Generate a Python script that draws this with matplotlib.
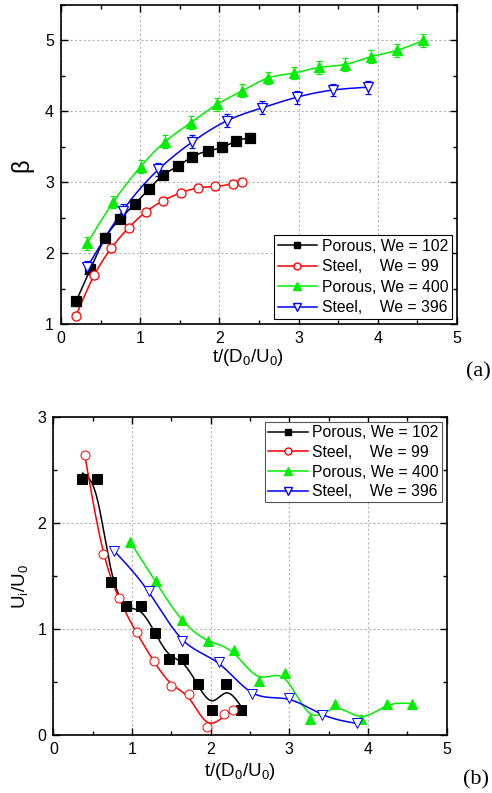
import numpy as np
import matplotlib
matplotlib.use('Agg')
import matplotlib.pyplot as plt
from matplotlib.lines import Line2D
from matplotlib.ticker import MultipleLocator

plt.rcParams['font.family'] = ['Liberation Sans', 'DejaVu Sans']
plt.rcParams['mathtext.fontset'] = 'custom'
plt.rcParams['mathtext.rm'] = 'Liberation Sans'
plt.rcParams['mathtext.it'] = 'Liberation Sans:italic'
plt.rcParams['mathtext.default'] = 'regular'

# ---- (a) spreading factor beta ----
t_porous_102 = [0.19, 0.37, 0.56, 0.745, 0.93, 1.115, 1.29, 1.48, 1.66, 1.85, 2.03, 2.21, 2.39]
b_porous_102 = [1.32, 1.77, 2.22, 2.48, 2.69, 2.91, 3.10, 3.23, 3.36, 3.44, 3.49, 3.58, 3.63]
e_porous_102 = [0.06] * len(t_porous_102)

t_steel_99 = [0.19, 0.42, 0.635, 0.855, 1.07, 1.29, 1.51, 1.73, 1.95, 2.17, 2.28]
b_steel_99 = [1.12, 1.69, 2.07, 2.36, 2.58, 2.74, 2.85, 2.92, 2.94, 2.98, 3.01]
e_steel_99 = [0.05] * len(t_steel_99)

t_porous_400 = [0.33, 0.66, 1.005, 1.31, 1.64, 1.97, 2.29, 2.61, 2.94, 3.26, 3.58, 3.91, 4.24, 4.57]
b_porous_400 = [2.14, 2.72, 3.22, 3.57, 3.84, 4.10, 4.29, 4.47, 4.54, 4.62, 4.66, 4.77, 4.86, 5.00]
e_porous_400 = [0.09] * len(t_porous_400)

t_steel_396 = [0.33, 0.78, 1.23, 1.66, 2.10, 2.54, 2.98, 3.43, 3.87]
b_steel_396 = [1.80, 2.60, 3.18, 3.57, 3.87, 4.05, 4.20, 4.30, 4.34]
e_steel_396 = [0.09] * len(t_steel_396)

# ---- (b) velocity Ui/U0 ----
tb_porous_102 = [0.37, 0.55, 0.73, 0.92, 1.11, 1.29, 1.47, 1.65, 1.84, 2.02, 2.20, 2.39]
u_porous_102 = [2.415, 2.415, 1.446, 1.217, 1.217, 0.965, 0.72, 0.72, 0.48, 0.24, 0.48, 0.24]

tb_steel_99 = [0.403, 0.63, 0.84, 1.06, 1.28, 1.50, 1.73, 1.95, 2.17, 2.28]
u_steel_99 = [2.648, 1.714, 1.295, 0.969, 0.70, 0.462, 0.387, 0.078, 0.195, 0.236]

tb_porous_400 = [0.98, 1.30, 1.63, 1.96, 2.29, 2.61, 2.94, 3.26, 3.58, 3.91, 4.24, 4.56]
u_porous_400 = [1.82, 1.45, 1.09, 0.887, 0.80, 0.512, 0.588, 0.148, 0.292, 0.148, 0.292, 0.292]

tb_steel_396 = [0.77, 1.21, 1.64, 2.10, 2.53, 2.99, 3.42, 3.86]
u_steel_396 = [1.74, 1.36, 0.89, 0.69, 0.387, 0.346, 0.189, 0.11]

labels = ['Porous, We = 102', 'Steel,    We = 99', 'Porous, We = 400', 'Steel,    We = 396']
colors = ['black', '#ff0000', '#00ee00', '#0000ff']
markers = ['s', 'o', '^', 'v']
faces = ['black', 'white', '#00ee00', 'white']
msizes = [6.5, 6.5, 7.5, 7.5]


# penalised least squares curve (like the smoothed lines in the plot)
def smooth_line(x, y, s, n=400):
    x = np.asarray(x, float)
    y = np.asarray(y, float)
    xs = np.linspace(x.min(), x.max(), n)
    h = xs[1] - xs[0]
    W = np.zeros((len(x), n))
    idx = np.clip(np.searchsorted(xs, x) - 1, 0, n - 2)
    f = (x - xs[idx]) / h
    W[np.arange(len(x)), idx] = 1 - f
    W[np.arange(len(x)), idx + 1] = f
    D = np.diff(np.eye(n), 2, axis=0)
    A = W.T @ W + s / h ** 3 * (D.T @ D)
    return xs, np.linalg.solve(A, W.T @ y)


def style_axes(ax):
    ax.set_xlim(0, 5)
    ax.xaxis.set_major_locator(MultipleLocator(1))
    ax.xaxis.set_minor_locator(MultipleLocator(0.5))
    ax.yaxis.set_major_locator(MultipleLocator(1))
    ax.yaxis.set_minor_locator(MultipleLocator(0.5))
    ax.tick_params(which='both', direction='in', top=True, right=True, width=1.0)
    ax.tick_params(which='major', length=5, labelsize=11.5, pad=5)
    ax.tick_params(which='minor', length=3)
    ax.grid(True, which='major', color='#b4b4b4', linestyle=(0, (2, 2)), linewidth=0.8)
    for sp in ax.spines.values():
        sp.set_linewidth(1.2)
    handles = [Line2D([], [], color=c, marker=m, markerfacecolor=fc, markeredgecolor=c,
                      markersize=ms - 1.5, linewidth=1.1)
               for c, m, fc, ms in zip(colors, markers, faces, msizes)]
    return handles


fig = plt.figure(figsize=(4.92, 7.93), dpi=100)

# ---------------- (a) ----------------
ax1 = fig.add_axes([0.124, 0.5914, 0.805, 0.4023])
series_a = [(t_porous_102, b_porous_102, e_porous_102),
            (t_steel_99, b_steel_99, e_steel_99),
            (t_porous_400, b_porous_400, e_porous_400),
            (t_steel_396, b_steel_396, e_steel_396)]
for (t, b, e), c, m, fc, ms in zip(series_a, colors, markers, faces, msizes):
    xs, ys = smooth_line(t, b, 2e-5)
    ax1.plot(xs, ys, color=c, linewidth=1.1, zorder=2)
    ax1.errorbar(t, b, yerr=e, fmt=m, color=c, markerfacecolor=fc, markeredgecolor=c,
                 markersize=ms, ecolor=c, elinewidth=0.8, capsize=2.5, capthick=0.8,
                 markeredgewidth=0.9, zorder=3)
h = style_axes(ax1)
ax1.set_ylim(1, 5.5)
leg = ax1.legend(h, labels, loc='lower right', fontsize=11.3, handlelength=2.5,
                 handletextpad=0.3, labelspacing=0.35, borderpad=0.25,
                 borderaxespad=0.3, fancybox=False, framealpha=1, edgecolor='black')
leg.get_frame().set_linewidth(0.8)
fig.text(0.047, 0.79, r'$\beta$', fontsize=17, rotation=90, ha='center', va='center')
fig.text(0.505, 0.5495, r't/(D$_0$/U$_0$)', fontsize=13.5, ha='center', va='center')
fig.text(0.972, 0.531, '(a)', fontsize=16, family='Liberation Serif', ha='center', va='center')

# ---------------- (b) ----------------
ax2 = fig.add_axes([0.1084, 0.0731, 0.7996, 0.4006])
series_b = [(tb_porous_102, u_porous_102, 4e-4),
            (tb_steel_99, u_steel_99, 4e-4),
            (tb_porous_400, u_porous_400, 6e-4),
            (tb_steel_396, u_steel_396, 6e-4)]
for (t, u, s), c, m, fc, ms in zip(series_b, colors, markers, faces, msizes):
    xs, ys = smooth_line(t, u, s)
    ax2.plot(xs, ys, color=c, linewidth=1.1, zorder=2)
    ax2.plot(t, u, linestyle='none', marker=m, color=c, markerfacecolor=fc,
             markeredgecolor=c, markersize=ms, markeredgewidth=0.7, zorder=3)
h = style_axes(ax2)
ax2.set_ylim(0, 3)
leg = ax2.legend(h, labels, loc='upper right', fontsize=11.3, handlelength=2.5,
                 handletextpad=0.3, labelspacing=0.3, borderpad=0.2,
                 borderaxespad=0.3, fancybox=False, framealpha=1, edgecolor='#555555')
leg.get_frame().set_linewidth(0.8)
fig.text(0.04, 0.26, r'U$_i$/U$_0$', fontsize=13.5, rotation=90, ha='center', va='center')
fig.text(0.488, 0.027, r't/(D$_0$/U$_0$)', fontsize=13.5, ha='center', va='center')
fig.text(0.968, 0.017, '(b)', fontsize=16, family='Liberation Serif', ha='center', va='center')

fig.savefig('out.png', dpi=100)
